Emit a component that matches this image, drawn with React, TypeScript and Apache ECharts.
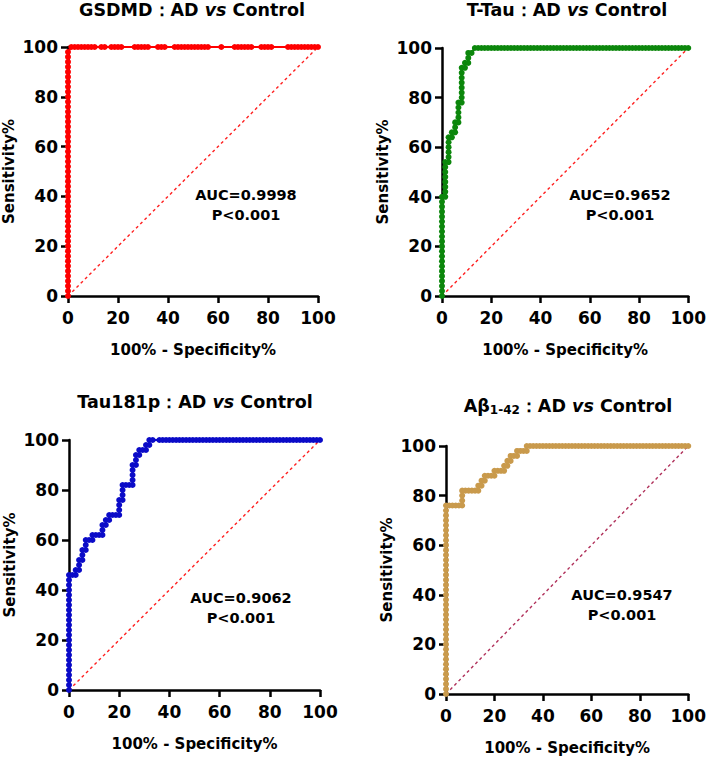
import React, { useEffect, useRef } from "react";
import * as echarts from "echarts";

const FONT = "DejaVu Sans";

// x: 100% - Specificity%, y: Sensitivity%
const gsdmdPoints: [number, number][] = [
  [0, 0], [0, 2], [0, 4], [0, 6], [0, 8], [0, 10], [0, 12], [0, 14], [0, 16], [0, 18],
  [0, 20], [0, 22], [0, 24], [0, 26], [0, 28], [0, 30], [0, 32], [0, 34], [0, 36], [0, 38],
  [0, 40], [0, 42], [0, 44], [0, 46], [0, 48], [0, 50], [0, 52], [0, 54], [0, 56], [0, 58],
  [0, 60], [0, 62], [0, 64], [0, 66], [0, 68], [0, 70], [0, 72], [0, 74], [0, 76], [0, 78],
  [0, 80], [0, 82], [0, 84], [0, 86], [0, 88], [0, 90], [0, 92], [0, 94], [0, 96], [0, 98],
  [1.33, 100], [2.67, 100], [4, 100], [5.33, 100], [6.67, 100], [8, 100], [9.33, 100], [10.67, 100],
  [13.33, 100], [14.67, 100], [17.33, 100], [18.67, 100], [20, 100], [21.33, 100],
  [26.67, 100], [28, 100], [29.33, 100], [30.67, 100], [32, 100], [36, 100], [37.33, 100], [38.67, 100],
  [42.67, 100], [44, 100], [45.33, 100], [46.67, 100], [48, 100], [49.33, 100], [50.67, 100], [52, 100],
  [53.33, 100], [54.67, 100], [56, 100], [61.33, 100], [66.67, 100], [68, 100], [69.33, 100], [70.67, 100],
  [72, 100], [73.33, 100], [77.33, 100], [78.67, 100], [80, 100], [81.33, 100],
  [88, 100], [89.33, 100], [90.67, 100], [92, 100], [93.33, 100], [94.67, 100], [96, 100], [97.33, 100],
  [98.67, 100], [100, 100],
];

const tTauPoints: [number, number][] = [
  [0, 0], [0, 2], [0, 4], [0, 6], [0, 8], [0, 10], [0, 12], [0, 14], [0, 16], [0, 18],
  [0, 20], [0, 22], [0, 24], [0, 26], [0, 28], [0, 30], [0, 32], [0, 34], [0, 36], [0, 38], [0, 40],
  [1.33, 40], [1.33, 42], [1.33, 44], [1.33, 46], [1.33, 48], [1.33, 50], [1.33, 52], [1.33, 54],
  [2.67, 54], [2.67, 56], [2.67, 58], [2.67, 60], [2.67, 62], [2.67, 64],
  [4, 64], [4, 66], [5.33, 66], [5.33, 68], [5.33, 70],
  [6.67, 70], [6.67, 72], [6.67, 74], [6.67, 76], [6.67, 78],
  [8, 78], [8, 80], [8, 82], [8, 84], [8, 86], [8, 88], [8, 90], [8, 92],
  [9.33, 92], [9.33, 94], [10.67, 94], [10.67, 96], [10.67, 98], [12, 98], [13.33, 100],
  [14.67, 100], [16, 100], [17.33, 100], [18.67, 100], [20, 100], [21.33, 100], [22.67, 100], [24, 100],
  [25.33, 100], [26.67, 100], [28, 100], [29.33, 100], [30.67, 100], [32, 100], [33.33, 100], [34.67, 100],
  [36, 100], [37.33, 100], [38.67, 100], [40, 100], [41.33, 100], [42.67, 100], [44, 100], [45.33, 100],
  [46.67, 100], [48, 100], [49.33, 100], [50.67, 100], [52, 100], [53.33, 100], [54.67, 100], [56, 100],
  [57.33, 100], [58.67, 100], [60, 100], [61.33, 100], [62.67, 100], [64, 100], [65.33, 100], [66.67, 100],
  [68, 100], [69.33, 100], [70.67, 100], [72, 100], [73.33, 100], [74.67, 100], [76, 100], [77.33, 100],
  [78.67, 100], [80, 100], [81.33, 100], [82.67, 100], [84, 100], [85.33, 100], [86.67, 100], [88, 100],
  [89.33, 100], [90.67, 100], [92, 100], [93.33, 100], [94.67, 100], [96, 100], [97.33, 100], [98.67, 100],
  [100, 100],
];

const tau181pPoints: [number, number][] = [
  [0, 0], [0, 2], [0, 4], [0, 6], [0, 8], [0, 10], [0, 12], [0, 14], [0, 16], [0, 18],
  [0, 20], [0, 22], [0, 24], [0, 26], [0, 28], [0, 30], [0, 32], [0, 34], [0, 36], [0, 38],
  [0, 40], [0, 42], [0, 44], [0, 46],
  [1.33, 46], [2.67, 46], [2.67, 48], [4, 48], [4, 50], [4, 52], [5.33, 52], [5.33, 54], [5.33, 56],
  [6.67, 56], [6.67, 58], [6.67, 60], [8, 60], [9.33, 60], [9.33, 62], [10.67, 62], [12, 62], [13.33, 62],
  [13.33, 64], [13.33, 66], [14.67, 66], [14.67, 68], [16, 68], [16, 70], [17.33, 70], [18.67, 70], [20, 70],
  [20, 72], [20, 74], [20, 76], [21.33, 76], [21.33, 78], [21.33, 80], [21.33, 82], [22.67, 82], [24, 82],
  [25.33, 82], [25.33, 84], [25.33, 86], [25.33, 88], [25.33, 90], [26.67, 90], [26.67, 92], [26.67, 94],
  [28, 94], [28, 96], [29.33, 96], [30.67, 96], [30.67, 98], [32, 98], [32, 100], [33.33, 100],
  [36, 100], [37.33, 100], [38.67, 100], [40, 100], [41.33, 100], [42.67, 100], [44, 100], [45.33, 100],
  [46.67, 100], [48, 100], [49.33, 100], [50.67, 100], [52, 100], [53.33, 100], [54.67, 100], [56, 100],
  [57.33, 100], [58.67, 100], [60, 100], [61.33, 100], [62.67, 100], [64, 100], [65.33, 100], [66.67, 100],
  [68, 100], [69.33, 100], [70.67, 100], [72, 100], [73.33, 100], [74.67, 100], [76, 100], [77.33, 100],
  [78.67, 100], [80, 100], [81.33, 100], [82.67, 100], [84, 100], [85.33, 100], [86.67, 100], [88, 100],
  [89.33, 100], [90.67, 100], [92, 100], [93.33, 100], [94.67, 100], [96, 100], [97.33, 100], [98.67, 100],
  [100, 100],
];

const ab42Points: [number, number][] = [
  [0, 0], [0, 2], [0, 4], [0, 6], [0, 8], [0, 10], [0, 12], [0, 14], [0, 16], [0, 18],
  [0, 20], [0, 22], [0, 24], [0, 26], [0, 28], [0, 30], [0, 32], [0, 34], [0, 36], [0, 38],
  [0, 40], [0, 42], [0, 44], [0, 46], [0, 48], [0, 50], [0, 52], [0, 54], [0, 56], [0, 58],
  [0, 60], [0, 62], [0, 64], [0, 66], [0, 68], [0, 70], [0, 72], [0, 74], [0, 76],
  [1.33, 76], [2.67, 76], [4, 76], [5.33, 76], [6.67, 76], [6.67, 78], [6.67, 80], [6.67, 82],
  [8, 82], [9.33, 82], [10.67, 82], [12, 82], [13.33, 82], [13.33, 84], [14.67, 84], [14.67, 86],
  [16, 86], [16, 88], [17.33, 88], [18.67, 88], [20, 88], [20, 90], [21.33, 90], [22.67, 90], [24, 90],
  [24, 92], [25.33, 92], [25.33, 94], [26.67, 94], [26.67, 96], [28, 96], [29.33, 96], [29.33, 98],
  [30.67, 98], [32, 98], [33.33, 98], [33.33, 100],
  [34.67, 100], [36, 100], [37.33, 100], [38.67, 100], [40, 100], [41.33, 100], [42.67, 100], [44, 100],
  [45.33, 100], [46.67, 100], [48, 100], [49.33, 100], [50.67, 100], [52, 100], [53.33, 100], [54.67, 100],
  [56, 100], [57.33, 100], [58.67, 100], [60, 100], [61.33, 100], [62.67, 100], [64, 100], [65.33, 100],
  [66.67, 100], [68, 100], [69.33, 100], [70.67, 100], [72, 100], [73.33, 100], [74.67, 100], [76, 100],
  [77.33, 100], [78.67, 100], [80, 100], [81.33, 100], [82.67, 100], [84, 100], [85.33, 100], [86.67, 100],
  [88, 100], [89.33, 100], [90.67, 100], [92, 100], [93.33, 100], [94.67, 100], [96, 100], [97.33, 100],
  [98.67, 100], [100, 100],
];

const referenceLine: [number, number][] = [[0, 0], [100, 100]];

const aucLabels = ["AUC=0.9998", "AUC=0.9652", "AUC=0.9062", "AUC=0.9547"];
const pLabels = ["P<0.001", "P<0.001", "P<0.001", "P<0.001"];
const xTitle = "100% - Specificity%";
const yTitle = "Sensitivity%";

const panels = [
  { data: gsdmdPoints, color: "#ff0000", diag: "#ff2020", grid: { left: 68, top: 47, width: 250, height: 249 },
    title: "{b|GSDMD：AD }{i|vs}{b| Control}", tx: 192, ty: 10, ax: 246, ay: 205 },
  { data: tTauPoints, color: "#0c870c", diag: "#ff2020", grid: { left: 442, top: 48, width: 249, height: 248 },
    title: "{b|T-Tau：AD }{i|vs}{b| Control}", tx: 567, ty: 10, ax: 620, ay: 205 },
  { data: tau181pPoints, color: "#0b0bc8", diag: "#ff2020", grid: { left: 69, top: 440, width: 251, height: 250 },
    title: "{b|Tau181p：AD }{i|vs}{b| Control}", tx: 195, ty: 402, ax: 241, ay: 608 },
  { data: ab42Points, color: "#c99a4c", diag: "#b0305a", grid: { left: 446, top: 446, width: 248, height: 248 },
    title: "{b|Aβ}{sub|1-42}{b|：AD }{i|vs}{b| Control}", tx: 568, ty: 406, ax: 622, ay: 605 },
];

export default function App() {
  const ref = useRef<HTMLDivElement>(null);
  useEffect(() => {
    if (!ref.current) return;
    const chart = echarts.init(ref.current, undefined, { renderer: "svg" });
    const axisCommon = {
      type: "value" as const,
      min: 0,
      max: 100,
      interval: 20,
      axisLine: { show: true, onZero: false, lineStyle: { color: "#000", width: 2.5 } },
      axisTick: { show: true, length: 7, lineStyle: { color: "#000", width: 2.5 } },
      splitLine: { show: false },
      nameLocation: "middle" as const,
      nameTextStyle: { color: "#000", fontSize: 15, fontWeight: "bold" as const, fontFamily: FONT },
    };
    const option: any = {
      animation: false,
      backgroundColor: "#fff",
      grid: panels.map((p) => ({ ...p.grid, containLabel: false })),
      xAxis: panels.map((_, i) => ({
        ...axisCommon,
        gridIndex: i,
        name: xTitle,
        nameGap: 46,
        axisLabel: { color: "#000", fontSize: 17, fontWeight: "bold", fontFamily: FONT, margin: 13 },
      })),
      yAxis: panels.map((_, i) => ({
        ...axisCommon,
        gridIndex: i,
        name: yTitle,
        nameGap: 52,
        axisLabel: { color: "#000", fontSize: 17, fontWeight: "bold", fontFamily: FONT, margin: 10 },
      })),
      series: panels.flatMap((p, i) => [
        {
          type: "line",
          xAxisIndex: i,
          yAxisIndex: i,
          data: referenceLine,
          symbol: "none",
          silent: true,
          lineStyle: { color: p.diag, width: 1.4, type: [3, 3] },
          z: 1,
        },
        {
          type: "line",
          xAxisIndex: i,
          yAxisIndex: i,
          data: p.data,
          symbol: "circle",
          symbolSize: 6,
          clip: false,
          lineStyle: { color: p.color, width: 2.2 },
          itemStyle: { color: p.color },
          z: 3,
        },
      ]),
      graphic: panels.flatMap((p, i) => [
        {
          type: "text",
          x: p.tx,
          y: p.ty,
          style: {
            text: p.title,
            align: "center",
            verticalAlign: "middle",
            fill: "#000",
            rich: {
              b: { fontSize: 17.5, fontWeight: "bold", fontFamily: FONT, fill: "#000", lineHeight: 19, verticalAlign: "middle" },
              i: { fontSize: 17.5, fontWeight: "bold", fontStyle: "italic", fontFamily: FONT, fill: "#000", lineHeight: 19, verticalAlign: "middle" },
              sub: { fontSize: 12, fontWeight: "bold", fontFamily: FONT, fill: "#000", lineHeight: 12, verticalAlign: "bottom" },
            },
          },
        },
        {
          type: "text",
          x: p.ax,
          y: p.ay,
          style: {
            text: aucLabels[i] + "\n" + pLabels[i],
            align: "center",
            verticalAlign: "middle",
            fill: "#000",
            fontSize: 14.5,
            fontWeight: "bold",
            fontFamily: FONT,
            lineHeight: 20,
          },
        },
      ]),
    };
    chart.setOption(option);
    return () => chart.dispose();
  }, []);
  return (
    <div
      ref={ref}
      style={{ position: "fixed", left: 0, top: 0, width: 709, height: 758, background: "#fff" }}
    />
  );
}
